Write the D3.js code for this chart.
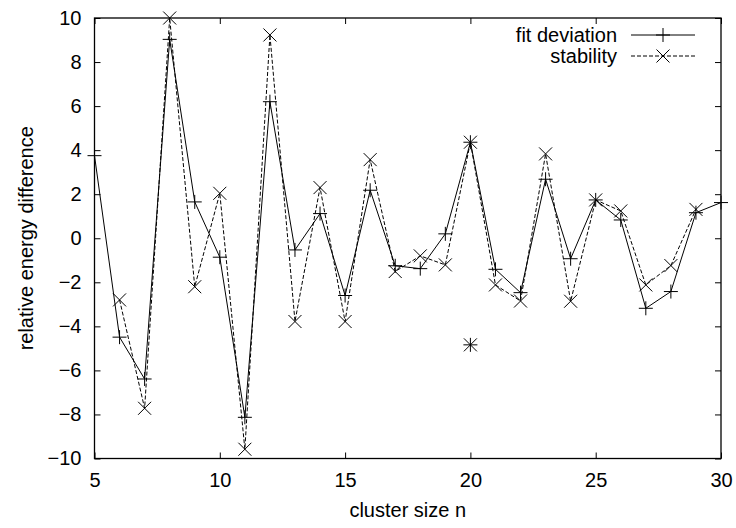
<!DOCTYPE html>
<html>
<head>
<meta charset="utf-8">
<script src="https://cdn.jsdelivr.net/npm/d3@7"></script>
<style>
  body { margin:0; background:#fff; }
  text { font-family: "Liberation Sans", Arial, sans-serif; }
</style>
</head>
<body>
<svg class="chart" width="736" height="528"></svg>
<script>

// data
var fitN = [5,6,7,8,9,10,11,12,13,14,15,16,17,18,19,20,21,22,23,24,25,26,27,28,29,30];
var fitDeviation = [3.75,-4.49,-6.39,9.03,1.65,-0.86,-8.13,6.2,-0.53,1.12,-2.6,2.18,-1.25,-1.38,0.2,4.36,-1.41,-2.47,2.68,-0.93,1.74,0.83,-3.18,-2.42,1.16,1.62];

var stabN = [6,7,8,9,10,11,12,13,14,15,16,17,18,19,20,21,22,23,24,25,26,27,28,29];
var stability = [-2.8,-7.72,10.0,-2.2,2.04,-9.58,9.23,-3.78,2.3,-3.78,3.57,-1.51,-0.8,-1.21,4.36,-2.12,-2.85,3.83,-2.86,1.74,1.24,-2.12,-1.24,1.31];

// lone point at n=20 (both series, not joined)
var extraN = [20];
var extraFit = [-4.84];
var extraStab = [-4.84];

var xTicks = [5,10,15,20,25,30];
var yTicks = [-10,-8,-6,-4,-2,0,2,4,6,8,10];

var seriesNames = ["fit deviation","stability"];

var margin = {left:94.5, right:15, top:18, bottom:69.5};
var W = 736, H = 528;

var svg = d3.select(".chart");

var x = d3.scaleLinear().domain([5,30]).range([margin.left, W-margin.right]);
var y = d3.scaleLinear().domain([-10,10]).range([H-margin.bottom, margin.top]);

var plus = "M-7,0H7M0,-7V7";
var cross = "M-6.5,-6.5L6.5,6.5M6.5,-6.5L-6.5,6.5";

function zip(ns,vs){
    var out=[];
    for(var k=0;k<ns.length;k++) out.push({n:ns[k],v:vs[k]});
    return out;
}

function styleaxis(g){
    g.select(".domain").remove();
    g.selectAll("line").attr("stroke","#000").attr("stroke-width",1);
    g.selectAll("text").attr("font-family","Liberation Sans, Arial, sans-serif")
        .attr("font-size",20).attr("fill","#000");
}

// axes, ticks point inward like gnuplot
svg.append("g")
   .attr("transform","translate(0,"+y(-10)+")")
   .call(d3.axisBottom(x).tickValues(xTicks).tickSizeInner(-6).tickSizeOuter(0).tickPadding(14))
   .call(styleaxis);

svg.append("g")
   .attr("transform","translate(0,"+y(10)+")")
   .call(d3.axisTop(x).tickValues(xTicks).tickSizeInner(-6).tickSizeOuter(0).tickFormat(""))
   .call(styleaxis);

svg.append("g")
   .attr("transform","translate("+x(5)+",0)")
   .call(d3.axisLeft(y).tickValues(yTicks).tickSizeInner(-6).tickSizeOuter(0).tickPadding(13))
   .call(styleaxis);

svg.append("g")
   .attr("transform","translate("+x(30)+",0)")
   .call(d3.axisRight(y).tickValues(yTicks).tickSizeInner(-6).tickSizeOuter(0).tickFormat(""))
   .call(styleaxis);

svg.append("rect")
   .attr("x",x(5)).attr("y",y(10))
   .attr("width",x(30)-x(5)).attr("height",y(-10)-y(10))
   .attr("fill","none").attr("stroke","#000").attr("stroke-width",1.3);

// axis titles
svg.append("text")
   .attr("x",(x(5)+x(30))/2).attr("y",517)
   .attr("text-anchor","middle").attr("font-size",20)
   .text("cluster size n");

svg.append("text")
   .attr("transform","translate(33,"+((y(10)+y(-10))/2)+") rotate(-90)")
   .attr("text-anchor","middle").attr("font-size",20)
   .text("relative energy difference");

var line = d3.line().x(function(d){ return x(d.n); }).y(function(d){ return y(d.v); });

function drawseries(data,extra,dash,marker){
    svg.append("path")
       .datum(data)
       .attr("d",line)
       .attr("fill","none")
       .attr("stroke","#000")
       .attr("stroke-width",1)
       .attr("stroke-dasharray",dash);

    svg.selectAll(null)
       .data(data.concat(extra))
       .enter().append("path")
       .attr("transform",function(d){ return "translate("+x(d.n)+","+y(d.v)+")"; })
       .attr("d",marker)
       .attr("fill","none")
       .attr("stroke","#000")
       .attr("stroke-width",1);
}

drawseries(zip(fitN,fitDeviation),zip(extraN,extraFit),null,plus);
drawseries(zip(stabN,stability),zip(extraN,extraStab),"4,2",cross);

// key
var key = svg.append("g").attr("class","key");
var keyY = [35,56];
var markers = [plus,cross];
var dashes = [null,"4,2"];
for(var k=0;k<seriesNames.length;k++){
    key.append("text")
       .attr("x",617).attr("y",keyY[k]+7)
       .attr("text-anchor","end").attr("font-size",20)
       .text(seriesNames[k]);
    key.append("line")
       .attr("x1",631).attr("x2",695)
       .attr("y1",keyY[k]).attr("y2",keyY[k])
       .attr("stroke","#000").attr("stroke-width",1)
       .attr("stroke-dasharray",dashes[k]);
    key.append("path")
       .attr("transform","translate(663,"+keyY[k]+")")
       .attr("d",markers[k])
       .attr("fill","none").attr("stroke","#000");
}

</script>
</body>
</html>
